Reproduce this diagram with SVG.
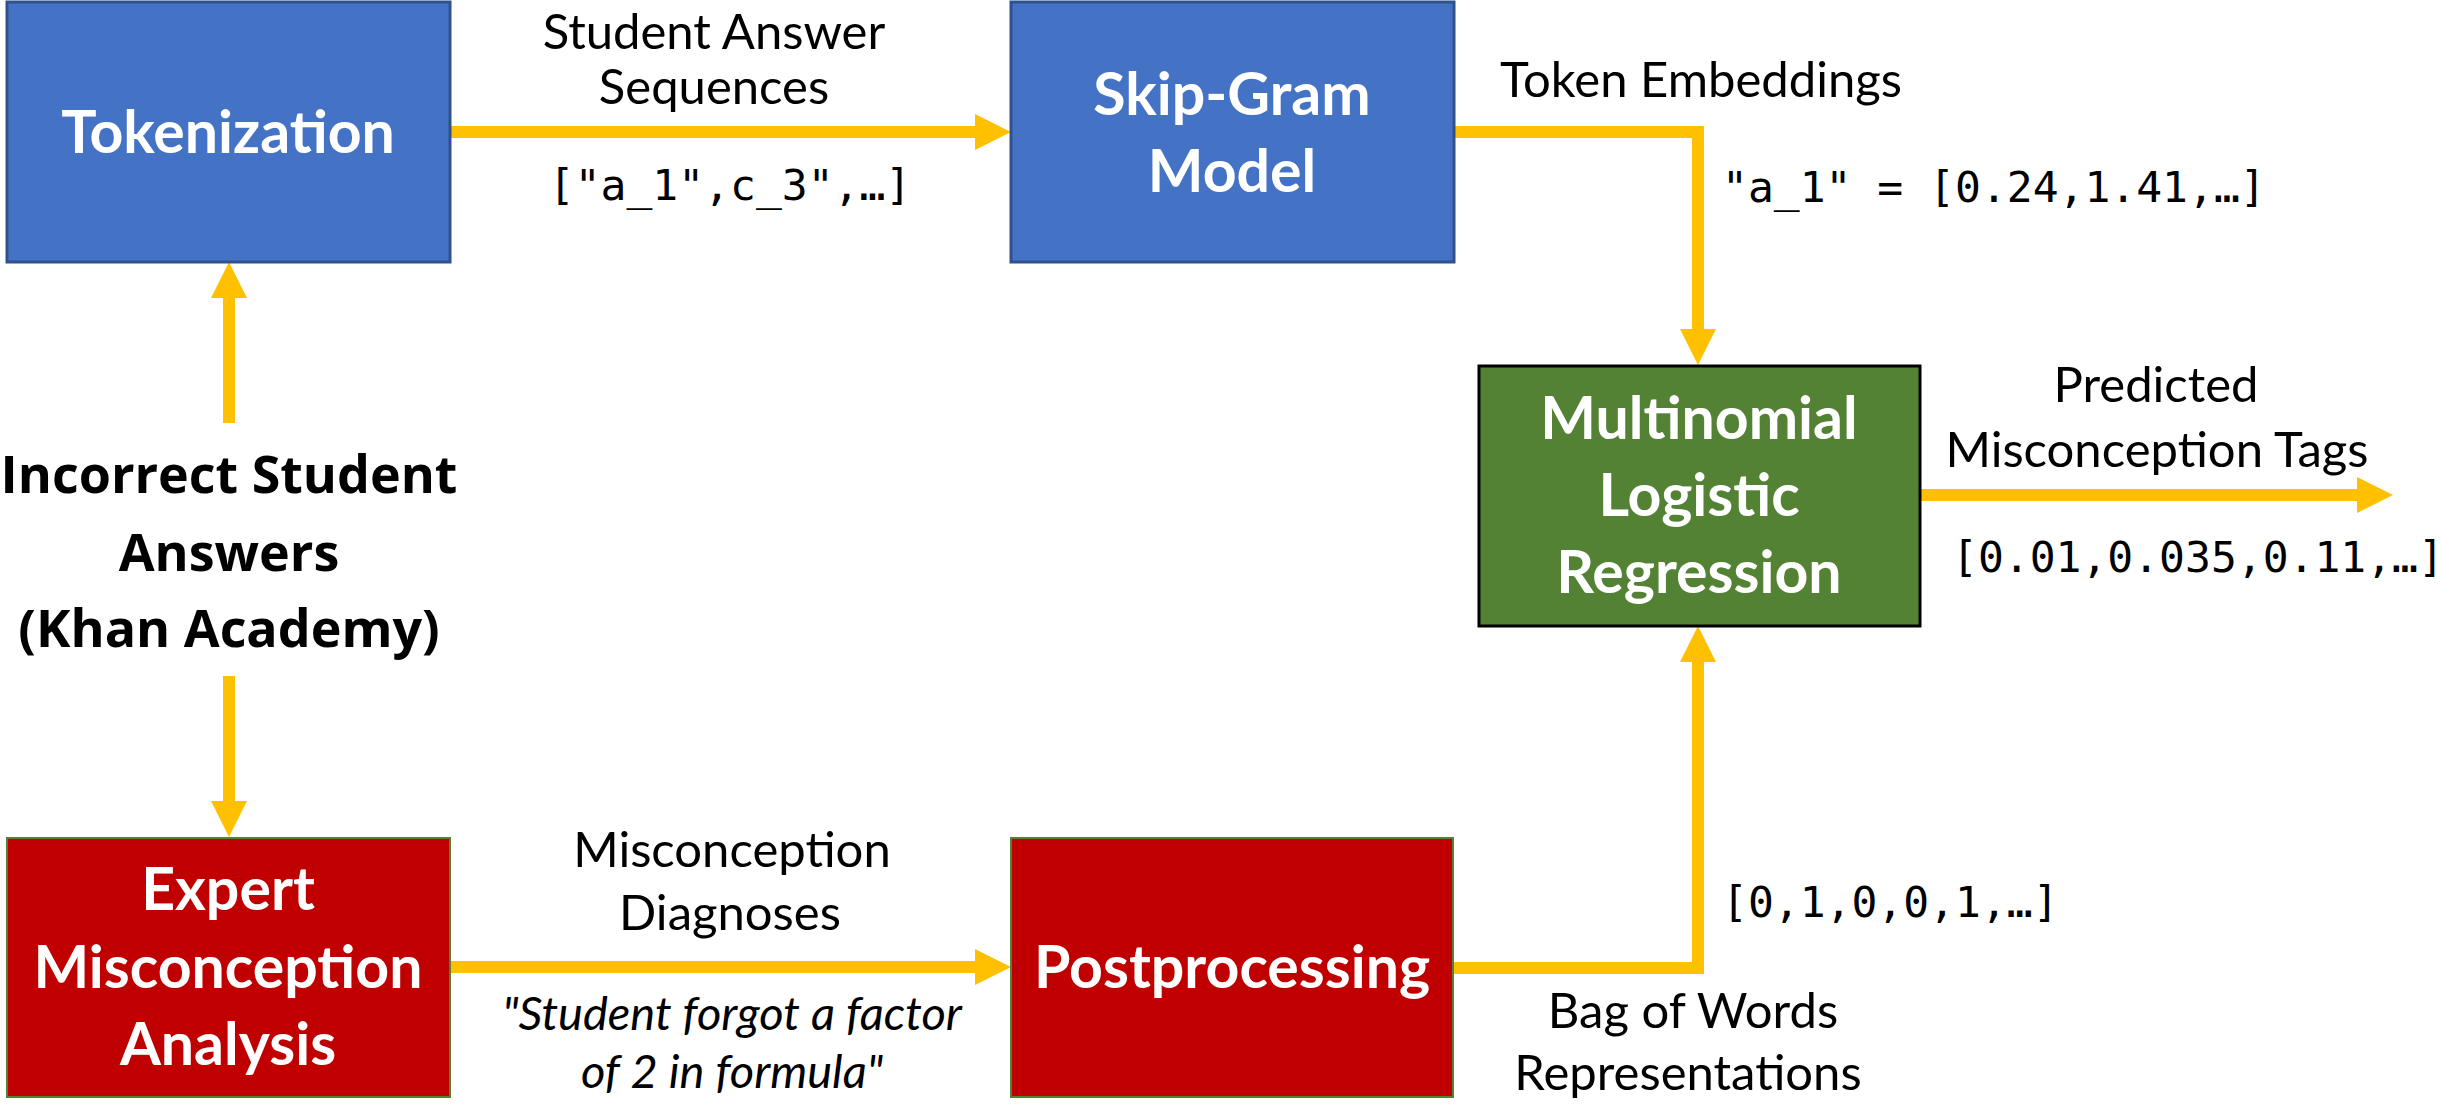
<svg xmlns="http://www.w3.org/2000/svg" width="2442" height="1105" viewBox="0 0 2442 1105">
<style>
.blue{fill:#4472C4;stroke:#2F528F;stroke-width:3}
.green{fill:#548235;stroke:#000;stroke-width:3}
.red{fill:#C00000;stroke:#538135;stroke-width:2}
.nt{font-family:Lato,"Liberation Sans",sans-serif;font-weight:bold;font-size:59px;fill:#fff;text-anchor:middle}
.lb{font-family:Lato,"Liberation Sans",sans-serif;font-size:49px;fill:#000;text-anchor:middle}
.it{font-family:Lato,"Liberation Sans",sans-serif;font-style:italic;font-size:47px;fill:#000;text-anchor:middle}
.mono{font-family:"DejaVu Sans Mono","Liberation Mono",monospace;font-size:43px;fill:#000}
.src{font-family:"Open Sans","Liberation Sans",sans-serif;font-weight:bold;font-size:52px;fill:#000;text-anchor:middle}
.conn{fill:none;stroke:#FFC000;stroke-width:12;stroke-linejoin:miter;marker-end:url(#ah)}
</style>
<defs>
<marker id="ah" viewBox="0 0 36 36" markerWidth="36" markerHeight="36" markerUnits="userSpaceOnUse" refX="0" refY="18" orient="auto">
<path d="M0,0 L36,18 L0,36 z" fill="#FFC000"/>
</marker>
</defs>
<g id="connectors">
<path class="conn" d="M229,423 V298"/>
<path class="conn" d="M229,676 V801"/>
<path class="conn" d="M450,132 H975"/>
<path class="conn" d="M1454,132 H1698 V329"/>
<path class="conn" d="M450,967 H975"/>
<path class="conn" d="M1453,968 H1698 V662"/>
<path class="conn" d="M1920,495 H2357"/>
</g>
<g id="labels">
<text class="lb" x="714" y="49">Student Answer</text>
<text class="lb" x="714" y="104">Sequences</text>
<text class="mono" x="730" y="200" text-anchor="middle">["a_1",c_3",…]</text>
<text class="lb" x="1701" y="97">Token Embeddings</text>
<text class="mono" x="1722" y="202">"a_1" = [0.24,1.41,…]</text>
<text class="lb" x="2156" y="402">Predicted</text>
<text class="lb" x="2157" y="467">Misconception Tags</text>
<text class="mono" x="1952" y="572">[0.01,0.035,0.11,…]</text>
<text class="mono" x="1722" y="917">[0,1,0,0,1,…]</text>
<text class="lb" x="1693" y="1028">Bag of Words</text>
<text class="lb" x="1688" y="1090">Representations</text>
<text class="lb" x="732" y="867">Misconception</text>
<text class="lb" x="730" y="930">Diagnoses</text>
<text class="it" x="732" y="1030">"Student forgot a factor</text>
<text class="it" x="732" y="1088">of 2 in formula"</text>
</g>
<g id="source">
<text class="src" x="229" y="493">Incorrect Student</text>
<text class="src" x="229" y="571">Answers</text>
<text class="src" x="229" y="647">(Khan Academy)</text>
</g>
<g id="tokenization">
<rect class="blue" x="7" y="2" width="443" height="260"/>
<text class="nt" x="228" y="153">Tokenization</text>
</g>
<g id="skipgram">
<rect class="blue" x="1011" y="2" width="443" height="260"/>
<text class="nt" x="1232" y="115">Skip-Gram</text>
<text class="nt" x="1232" y="192">Model</text>
</g>
<g id="multinomial">
<rect class="green" x="1479" y="366" width="441" height="260"/>
<text class="nt" x="1699" y="439">Multinomial</text>
<text class="nt" x="1699" y="516">Logistic</text>
<text class="nt" x="1699" y="593">Regression</text>
</g>
<g id="expert">
<rect class="red" x="7" y="838" width="443" height="259"/>
<text class="nt" x="228" y="910">Expert</text>
<text class="nt" x="228" y="988">Misconception</text>
<text class="nt" x="228" y="1065">Analysis</text>
</g>
<g id="postprocessing">
<rect class="red" x="1011" y="838" width="442" height="259"/>
<text class="nt" x="1232" y="988">Postprocessing</text>
</g>
</svg>
